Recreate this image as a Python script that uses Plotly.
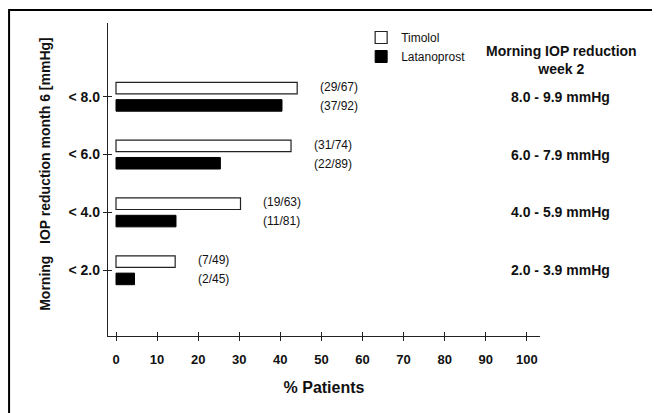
import plotly.graph_objects as go

# ---- data ----
categories = ["< 2.0", "< 4.0", "< 6.0", "< 8.0"]          # morning IOP reduction month 6
week2_ranges = ["2.0 - 3.9 mmHg", "4.0 - 5.9 mmHg", "6.0 - 7.9 mmHg", "8.0 - 9.9 mmHg"]
timolol_pct = [14.4, 30.3, 42.6, 44.1]
latanoprost_pct = [4.5, 14.6, 25.4, 40.4]
timolol_counts = ["(7/49)", "(19/63)", "(31/74)", "(29/67)"]
latanoprost_counts = ["(2/45)", "(11/81)", "(22/89)", "(37/92)"]
x_ticks = [0, 10, 20, 30, 40, 50, 60, 70, 80, 90, 100]

FONT = "Liberation Sans, Arial, Helvetica, sans-serif"
INK = "#111111"

fig = go.Figure()
fig.add_trace(go.Bar(
    name="Timolol", y=categories, x=timolol_pct, orientation="h",
    width=0.2, offset=0.05,
    marker=dict(color="white", line=dict(color="#222222", width=1.2)),
))
fig.add_trace(go.Bar(
    name="Latanoprost", y=categories, x=latanoprost_pct, orientation="h",
    width=0.2, offset=-0.25,
    marker=dict(color="black", line=dict(color="black", width=1)),
))

bold14 = dict(family=FONT, size=14, color=INK, weight="bold")
annotations = []
for cat, t, tc, lc in zip(categories, timolol_pct, timolol_counts, latanoprost_counts):
    annotations.append(dict(x=t + 5, y=cat, xref="x", yref="y", text=tc, showarrow=False,
                            xanchor="left", yshift=10,
                            font=dict(family=FONT, size=12, color=INK)))
    annotations.append(dict(x=t + 5, y=cat, xref="x", yref="y", text=lc, showarrow=False,
                            xanchor="left", yshift=-9,
                            font=dict(family=FONT, size=12, color=INK)))
for cat, r in zip(categories, week2_ranges):
    annotations.append(dict(x=1.047, y=cat, xref="paper", yref="y", text=r,
                            showarrow=False, xanchor="center", font=bold14))
annotations.append(dict(x=1.050, y=0.881, xref="paper", yref="paper", xanchor="center",
                        yanchor="middle", align="center",
                        text="Morning IOP reduction<br>week 2", showarrow=False,
                        font=bold14))
annotations.append(dict(x=-0.146, y=0.518, xref="paper", yref="paper", textangle=-90,
                        xanchor="center", yanchor="middle",
                        text="Morning&nbsp;&nbsp; IOP reduction month 6 [mmHg]",
                        showarrow=False, font=bold14))

xr = [-1.95, 103.2]
yr = [-1.137, 4.275]

# the page body adds an 8px offset, so the figure is 8px smaller and margins shifted
fig.update_layout(
    width=652, height=405,
    margin=dict(l=100, r=120, t=15, b=77),
    paper_bgcolor="white", plot_bgcolor="white",
    barmode="overlay",
    showlegend=True,
    legend=dict(x=0.586, y=1.0, xanchor="left", yanchor="top",
                font=dict(family=FONT, size=12, color=INK),
                bgcolor="rgba(0,0,0,0)", tracegroupgap=0),
    xaxis=dict(range=xr, tickvals=x_ticks, ticks="outside", ticklen=4, tickwidth=1,
               tickcolor="#222", showline=True, linecolor="#222", linewidth=1.3,
               showgrid=False, zeroline=False, ticklabelstandoff=7,
               tickfont=dict(family=FONT, size=13, color=INK, weight="bold"),
               title=dict(text="% Patients",
                          font=dict(family=FONT, size=16, color=INK, weight="bold"),
                          standoff=16)),
    yaxis=dict(range=yr, type="category", ticks="outside", ticklen=4, tickwidth=1,
               tickcolor="#222", showline=True, linecolor="#222", linewidth=1.3,
               showgrid=False, zeroline=False,
               tickfont=dict(family=FONT, size=14, color=INK, weight="bold")),
    xaxis2=dict(range=xr, overlaying="x", anchor="y", side="bottom",
                tickvals=x_ticks, ticks="inside", ticklen=4, tickwidth=1,
                tickcolor="#222", showticklabels=False, showgrid=False,
                zeroline=False, showline=False),
    yaxis2=dict(range=yr, type="category", overlaying="y", anchor="x", side="left",
                categoryarray=categories, ticks="inside", ticklen=4, tickwidth=1,
                tickcolor="#222", showticklabels=False, showgrid=False,
                zeroline=False, showline=False),
    annotations=annotations,
    shapes=[dict(type="rect", xref="paper", yref="paper",
                 x0=-0.229, y0=-0.3, x1=1.35, y1=1.0415,
                 line=dict(color="black", width=2), fillcolor="rgba(0,0,0,0)",
                 layer="below")],
)

# invisible trace so that the overlay axes render with matching categories
fig.add_trace(go.Scatter(x=[0] * len(categories), y=categories, xaxis="x2", yaxis="y2",
                         mode="markers", marker=dict(opacity=0), showlegend=False,
                         hoverinfo="skip"))

fig.write_html("out.html")
